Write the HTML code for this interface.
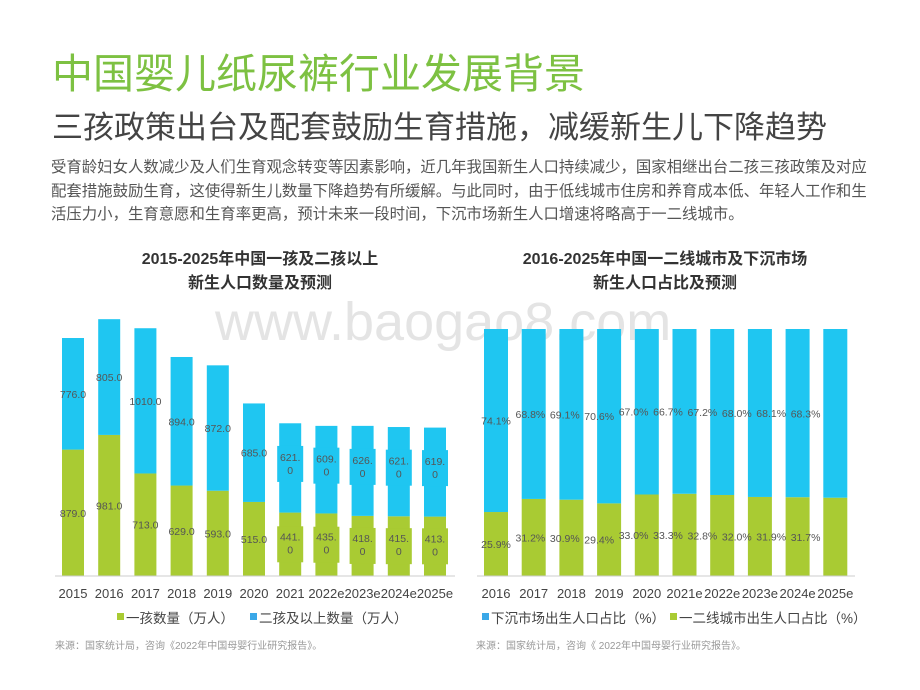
<!DOCTYPE html>
<html><head><meta charset="utf-8">
<style>
body{margin:0;width:920px;height:690px;background:#fff;position:relative;overflow:hidden;font-family:"Liberation Sans","Noto Sans CJK SC",sans-serif}
.a{position:absolute;white-space:nowrap}
</style></head><body>
<div class="a" style="left:52px;top:50px;font-size:41px;color:#7dc142;line-height:48px">中国婴儿纸尿裤行业发展背景</div>
<div class="a" style="left:52px;top:108px;font-size:31px;color:#444;line-height:40px">三孩政策出台及配套鼓励生育措施，减缓新生儿下降趋势</div>
<div class="a" style="left:51px;top:156px;font-size:15.4px;color:#555;line-height:23.5px">受育龄妇女人数减少及人们生育观念转变等因素影响，近几年我国新生人口持续减少，国家相继出台二孩三孩政策及对应<br>配套措施鼓励生育，这使得新生儿数量下降趋势有所缓解。与此同时，由于低线城市住房和养育成本低、年轻人工作和生<br>活压力小，生育意愿和生育率更高，预计未来一段时间，下沉市场新生人口增速将略高于一二线城市。</div>
<div class="a" style="left:60px;width:400px;top:248px;text-align:center;font-size:16px;font-weight:bold;color:#333;line-height:24px;white-space:normal">2015-2025年中国一孩及二孩以上<br>新生人口数量及预测</div>
<div class="a" style="left:465px;width:400px;top:248px;text-align:center;font-size:16px;font-weight:bold;color:#333;line-height:24px;white-space:normal">2016-2025年中国一二线城市及下沉市场<br>新生人口占比及预测</div>
<div class="a" style="left:215px;top:292px;font-size:54px;color:#e4e4e4;line-height:60px">www.baogao8.com</div>
<svg class="a" style="left:0;top:0" width="920" height="690" id="svg"></svg>
<div class="a" style="left:55px;top:637px;font-size:10px;color:#999">来源：国家统计局，咨询《2022年中国母婴行业研究报告》。</div>
<div class="a" style="left:476px;top:637px;font-size:10px;color:#999">来源：国家统计局，咨询《 2022年中国母婴行业研究报告》。</div>
<script>
const catsL=["2015","2016","2017","2018","2019","2020","2021","2022e","2023e","2024e","2025e"];
const firstChild=[879,981,713,629,593,515,441,435,418,415,413];
const secondPlus=[776,805,1010,894,872,685,621,609,626,621,619];
const catsR=["2016","2017","2018","2019","2020","2021e","2022e","2023e","2024e","2025e"];
const tierShare=[25.9,31.2,30.9,29.4,33.0,33.3,32.8,32.0,31.9,31.7];
const sinkShare=[74.1,68.8,69.1,70.6,67.0,66.7,67.2,68.0,68.1,68.3];
const G="#a9cb33",B="#1fc6f1";
const svg=document.getElementById('svg');const NS="http://www.w3.org/2000/svg";
function mk(t,at,p){const e=document.createElementNS(NS,t);for(const k in at)e.setAttribute(k,at[k]);(p||svg).appendChild(e);return e;}
function txt(x,y,s,sz,col,nm){const e=mk('text',{x:x,y:y,'font-size':sz,fill:col,'text-anchor':'middle','font-family':'Liberation Sans, Noto Sans CJK SC, sans-serif'});e.textContent=s;return e;}
const base=576,kL=0.1438;
const xL=i=>73+i*36.2;const yL=v=>base-v*kL;
catsL.forEach((c,i)=>{const x=xL(i),w=22;
 const g=mk('rect',{x:x-w/2,y:yL(firstChild[i]),width:w,height:firstChild[i]*kL,fill:G});
 
 const b=mk('rect',{x:x-w/2,y:yL(firstChild[i]+secondPlus[i]),width:w,height:secondPlus[i]*kL,fill:B});
 
 const gm=yL(firstChild[i]/2),bm=yL(firstChild[i]+secondPlus[i]/2);
 if(i>=6){
  const r1=mk('rect',{x:x-13,y:gm-18,width:26,height:36,fill:G});
  const r2=mk('rect',{x:x-13,y:bm-22,width:26,height:36,fill:B});
  const s1=firstChild[i].toFixed(1).split('.'),s2=secondPlus[i].toFixed(1).split('.');
  txt(x,gm-4,s1[0]+'.',10.5,'#555','label-first');txt(x,gm+9,s1[1],10.5,'#555','label-first');
  txt(x,bm-7,s2[0]+'.',10.5,'#555','label-second');txt(x,bm+6,s2[1],10.5,'#555','label-second');
 }else{
  txt(x,gm+4,firstChild[i].toFixed(1),10.5,'#555','label-first');
  txt(x,bm+4,secondPlus[i].toFixed(1),10.5,'#555','label-second');
 }
 txt(x,598,c,13,'#444','x-label');
});
const ax=mk('line',{x1:55,y1:base,x2:455,y2:base,stroke:'#ccc','stroke-width':1});
const kR=2.47;const xR=i=>496+i*37.7;const yR=v=>base-v*kR;const xLab=i=>496+i*34.4;
catsR.forEach((c,i)=>{const x=xR(i),w=24;
 const g=mk('rect',{x:x-w/2,y:yR(tierShare[i]),width:w,height:tierShare[i]*kR,fill:G});
 
 const b=mk('rect',{x:x-w/2,y:yR(tierShare[i]+sinkShare[i]),width:w,height:sinkShare[i]*kR,fill:B});
 
 txt(xLab(i),yR(tierShare[i]/2)+4,tierShare[i].toFixed(1)+'%',10.5,'#555','label-tier');
 txt(xLab(i),yR(tierShare[i]+sinkShare[i]/2)+4,sinkShare[i].toFixed(1)+'%',10.5,'#555','label-sink');
 txt(x,598,c,13,'#444','x-label');
});
const ax2=mk('line',{x1:477,y1:base,x2:855,y2:base,stroke:'#ccc','stroke-width':1});
function leg(x,col,s,nm){const r=mk('rect',{x:x,y:613,width:7,height:7,fill:col});
 const t=mk('text',{x:x+9,y:623,'font-size':13.5,fill:'#444','font-family':'Liberation Sans, Noto Sans CJK SC, sans-serif'});t.textContent=s;}
leg(117,G,"一孩数量（万人）","legend-first");
leg(250,"#3aa8e8","二孩及以上数量（万人）","legend-second");
leg(482,"#3aa8e8","下沉市场出生人口占比（%）","legend-sink");
leg(670,G,"一二线城市出生人口占比（%）","legend-tier");
</script>
</body></html>
